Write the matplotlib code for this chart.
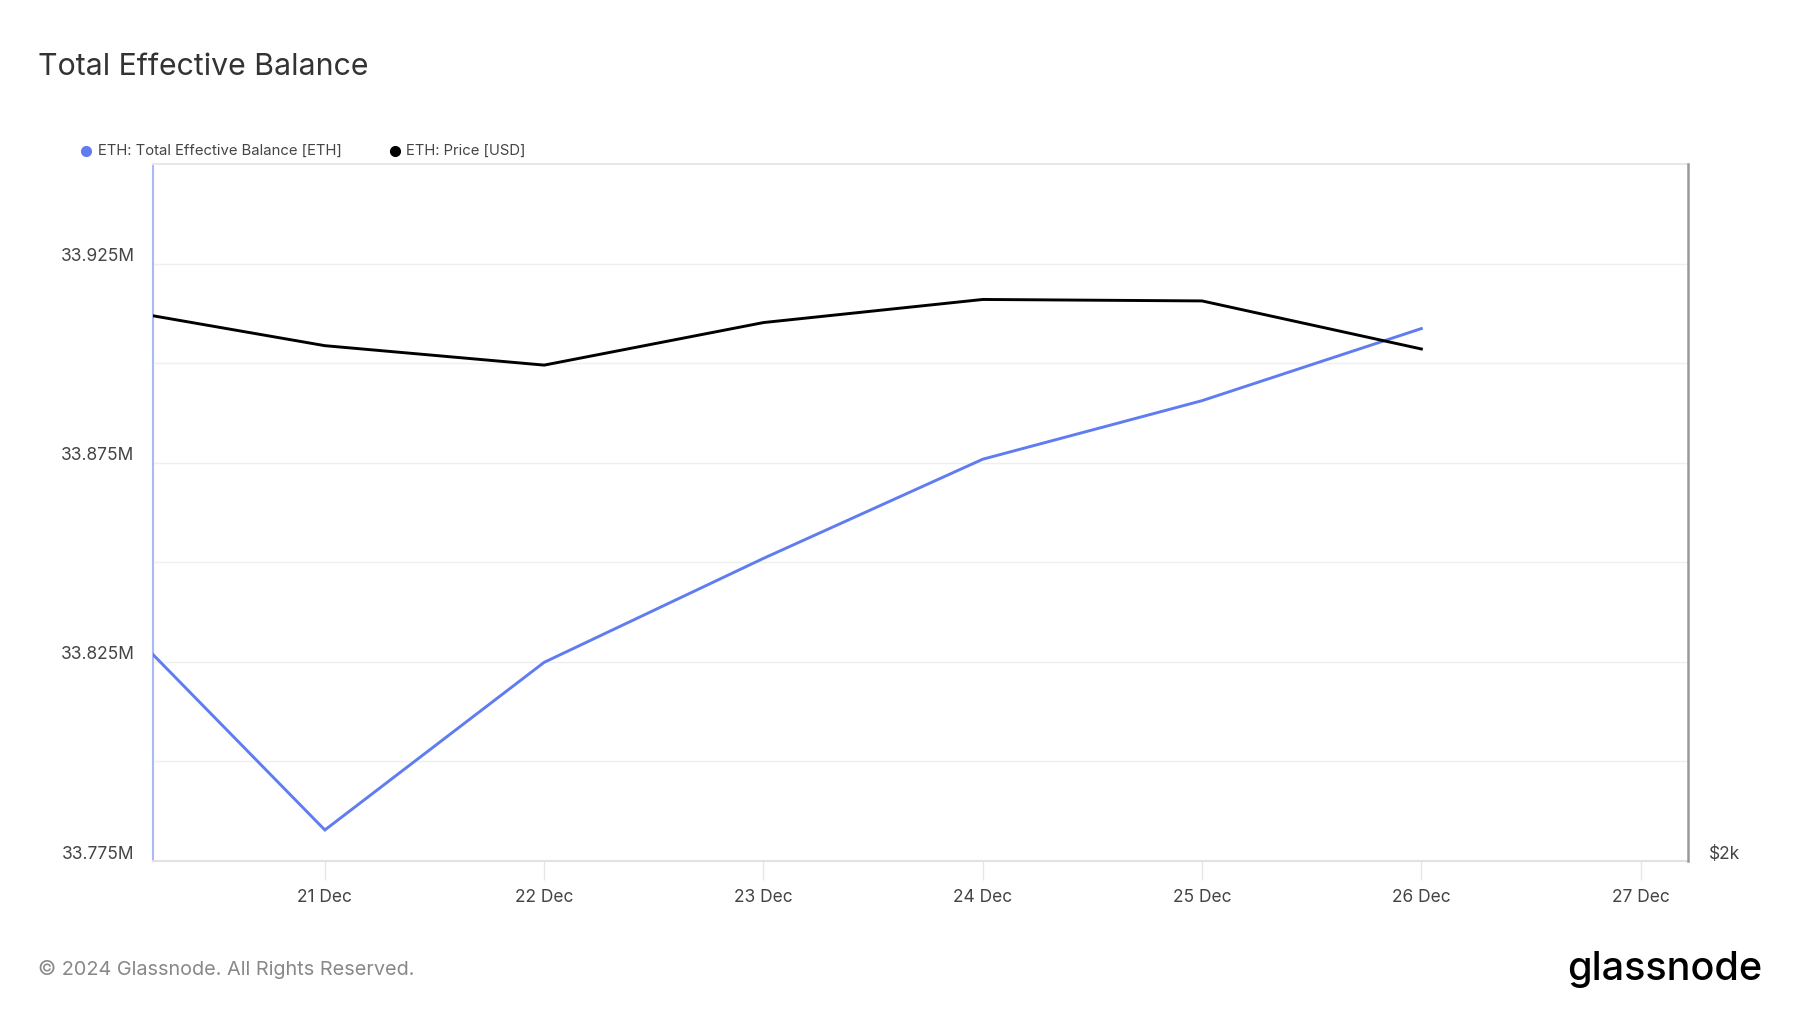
import numpy as np
import matplotlib
matplotlib.use("Agg")
import matplotlib.pyplot as plt
import matplotlib.dates as mdates
import matplotlib.transforms as mtransforms
from matplotlib.lines import Line2D
from datetime import datetime, timedelta

plt.rcParams['font.family'] = ['Inter', 'DejaVu Sans']

# data
dates = [datetime(2024, 12, d) for d in range(20, 27)]
balance_m = [33.839, 33.7828, 33.8249, 33.8510, 33.8759, 33.8906, 33.9087]
price_usd = [3509, 3405, 3352, 3468, 3531, 3527, 3396]

tick_days = [datetime(2024, 12, d) for d in range(21, 28)]
tick_labels = [f"{d.day} Dec" for d in tick_days]
ytick_vals = [33.775, 33.825, 33.875, 33.925]
ygrid_vals = [33.775, 33.800, 33.825, 33.850, 33.875, 33.900, 33.925]

blue = "#5f7cf0"

fig = plt.figure(figsize=(18, 10.13), dpi=100)
ax = fig.add_axes([0.0848, 0.150, 0.8528, 0.688])

ax.plot(dates, balance_m, color=blue, lw=2.1, solid_joinstyle="miter", zorder=3)

x0 = datetime(2024, 12, 20, 5, 9)
ax.set_xlim(x0, x0 + timedelta(days=7))
ax.set_ylim(33.775, 33.950)

for g in ygrid_vals:
    ax.axhline(g, color="#efefef", lw=1.0, zorder=0)

ax.set_yticks(ytick_vals)
ax.set_yticklabels([f"{v:.3f}M" for v in ytick_vals])
ax.set_xticks(tick_days)
ax.set_xticklabels(tick_labels)

ax.tick_params(axis="y", length=0, pad=13, labelsize=12.5, labelcolor="#444444")
ax.tick_params(axis="x", length=14, width=1, color="#e6e6e6", pad=6,
               labelsize=12.5, labelcolor="#444444")
off = mtransforms.ScaledTranslation(0, 0.09, fig.dpi_scale_trans)
for lab in ax.get_yticklabels():
    lab.set_transform(lab.get_transform() + off)

ax.spines["left"].set_color("#aab9f7")
ax.spines["left"].set_linewidth(1.5)
ax.spines["top"].set_color("#e8e8e8")
ax.spines["top"].set_linewidth(1.5)
ax.spines["bottom"].set_color("#e2e2e2")
ax.spines["bottom"].set_linewidth(1.5)
ax.spines["right"].set_visible(False)

ax2 = ax.twinx()
ax2.plot(dates, price_usd, color="black", lw=2.1, zorder=3)
ax2.set_ylim(2000, 3900)
ax2.set_yticks([2000])
ax2.set_yticklabels(["$2k"])
ax2.tick_params(axis="y", length=0, pad=15, labelsize=12.5, labelcolor="#444444")
for lab in ax2.get_yticklabels():
    lab.set_transform(lab.get_transform() + off)
for s in ["left", "top", "bottom"]:
    ax2.spines[s].set_visible(False)
ax2.spines["right"].set_color("#999999")
ax2.spines["right"].set_linewidth(1.8)

# title
fig.text(38 / 1800, 1 - 67 / 1013, "Total Effective Balance", fontsize=21.8,
         color="#333333", va="center", ha="left")

# legend
ly = 1 - 151 / 1013
fig.add_artist(Line2D([86 / 1800], [ly], marker="o", color=blue, markersize=7,
                      transform=fig.transFigure, linestyle="none"))
fig.text(98 / 1800, ly, "ETH: Total Effective Balance [ETH]", fontsize=10.7,
         color="#444444", va="center", ha="left")
fig.add_artist(Line2D([395 / 1800], [ly], marker="o", color="black", markersize=7,
                      transform=fig.transFigure, linestyle="none"))
fig.text(406 / 1800, ly, "ETH: Price [USD]", fontsize=10.7,
         color="#444444", va="center", ha="left")

# footer
fig.text(38 / 1800, 1 - 969 / 1013, "© 2024 Glassnode. All Rights Reserved.",
         fontsize=14.3, color="#888888", va="center", ha="left")
fig.text(1762 / 1800, 1 - 969 / 1013, "glassnode", fontsize=28.5, fontweight="medium",
         color="black", va="center", ha="right")

fig.savefig("out.png", dpi=100)
